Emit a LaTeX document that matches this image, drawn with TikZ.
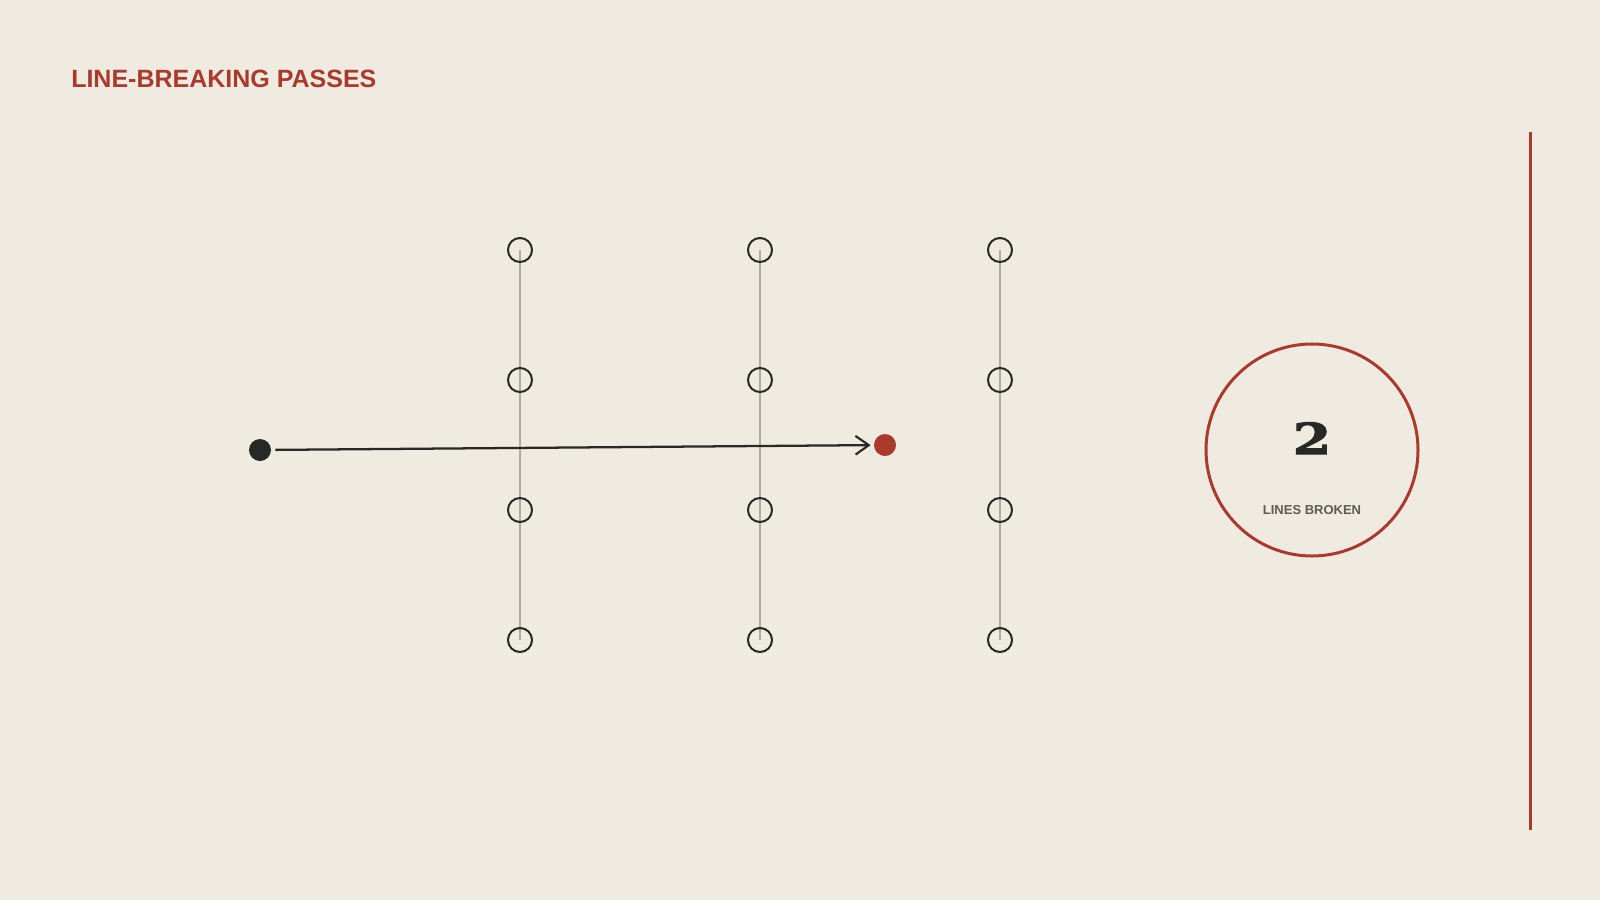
\documentclass[tikz,border=0pt]{standalone}
\usepackage{fontspec}
\setmainfont{Liberation Sans}
\newfontface\numface{DejaVu Serif Bold}[FakeBold=2.5,FakeStretch=1.3]
\usetikzlibrary{arrows.meta}
\definecolor{bgc}{HTML}{EFEBE1}
\definecolor{redc}{HTML}{A93A2D}
\definecolor{darkc}{HTML}{262926}
\definecolor{grayl}{HTML}{B0ABA0}
\definecolor{labelc}{HTML}{5C5C55}
\pgfdeclarelayer{bglayer}
\pgfdeclarelayer{linelayer}
\pgfsetlayers{bglayer,linelayer,main}
\tikzset{
  pnode/.style={circle,draw=darkc,line width=1.5pt,minimum size=18pt,inner sep=0pt},
  vline/.style={draw=grayl,line width=1.3pt},
  startdot/.style={circle,fill=darkc,minimum size=16.5pt,inner sep=0pt},
  enddot/.style={circle,fill=redc,minimum size=16.5pt,inner sep=0pt},
  passarrow/.style={draw=darkc,line width=1.7pt,-{Straight Barb[length=10pt,width=14pt,line width=1.6pt]},shorten <=3pt,shorten >=2.3pt},
  bigcirc/.style={circle,draw=redc,line width=2.25pt,minimum size=159pt,inner sep=0pt},
  titletext/.style={font=\fontsize{18.75pt}{22pt}\selectfont\bfseries,text=redc,inner sep=0pt},
  numtext/.style={font=\fontsize{32pt}{36pt}\selectfont\numface,text=darkc,inner sep=0pt},
  lbltext/.style={font=\fontsize{9.75pt}{12pt}\selectfont\bfseries,text=labelc,inner sep=0pt}
}
\begin{document}
\begin{tikzpicture}[x=0.75pt,y=-0.75pt]
\begin{pgfonlayer}{bglayer}
\fill[bgc] (0,0) rectangle (1600,900);
\end{pgfonlayer}
\useasboundingbox (0,0) rectangle (1600,900);

\node[titletext,anchor=base west] (title) at (71,87) {LINE-BREAKING PASSES};

% grid of passing nodes
\foreach \c/\x in {1/520,2/760,3/1000}{
  \foreach \r/\y in {1/250,2/380,3/510,4/640}{
    \node[pnode] (n\c\r) at (\x,\y) {};
  }
}
\begin{pgfonlayer}{linelayer}
\foreach \c in {1,2,3}{
  \draw[vline] (n\c1.center) -- (n\c4.center);
}
\end{pgfonlayer}

\node[startdot] (start) at (260,450) {};
\node[enddot] (end) at (885,445) {};
\draw[passarrow] (start) -- (end);

\node[bigcirc] (stat) at (1312,450) {};
\node[numtext,anchor=base] (num) at (1312,454) {2};
\node[lbltext,anchor=base] (lbl) at (1312,514) {LINES BROKEN};

\coordinate (rtop) at (1530,132);
\coordinate (rbot) at (1530,830);
\draw[redc,line width=2.25pt] (rtop) -- (rbot);
\end{tikzpicture}
\end{document}
